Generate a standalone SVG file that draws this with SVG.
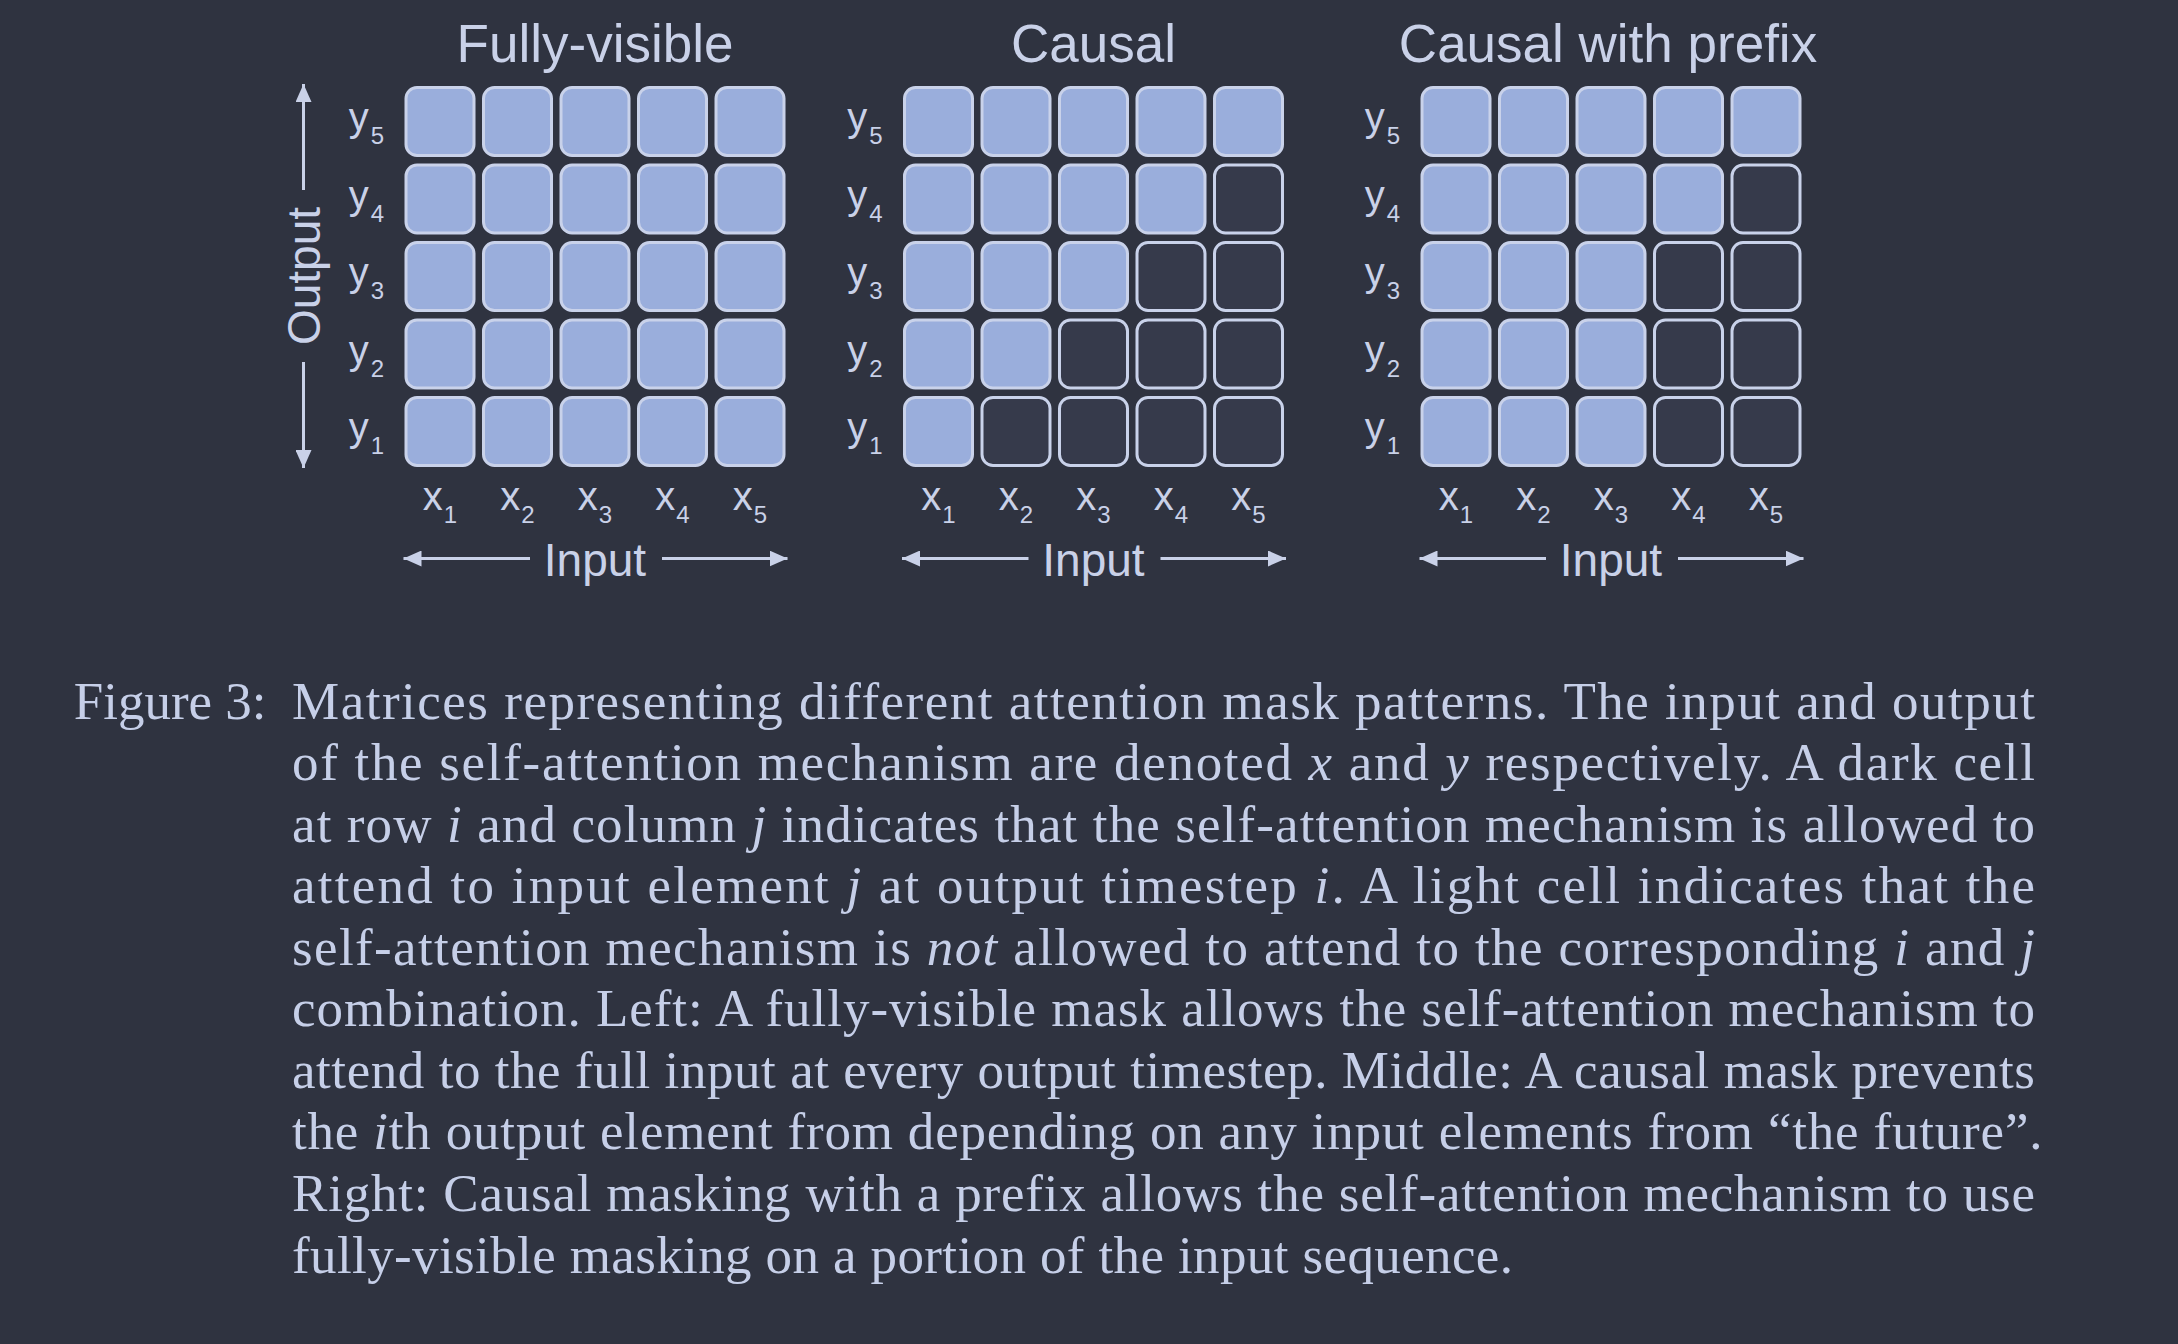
<svg xmlns="http://www.w3.org/2000/svg" width="2178" height="1344" viewBox="0 0 2178 1344">
<style>
.bg{fill:#2f3340}
.on{fill:#9aaedc;stroke:#c9d2ea;stroke-width:3}
.off{fill:#363a4b;stroke:#c9d2ea;stroke-width:3}
.lbl{font-family:"Liberation Sans",Arial,sans-serif;fill:#c9d1e8}
.title{font-size:53px;text-anchor:middle}
.ax{font-size:46px;text-anchor:middle}
.xl{font-size:40px;text-anchor:middle}
.yl{font-size:40px;text-anchor:end}
.sub{font-size:24px}
.arr{stroke:#c9d1e8;stroke-width:3;fill:none;marker-end:url(#ah)}
.cap{font-family:"Liberation Serif","Times New Roman",serif;font-size:53px;fill:#c6cfe8}
.it{font-style:italic}
</style>
<defs>
<marker id="ah" markerUnits="userSpaceOnUse" markerWidth="20" markerHeight="16" refX="18" refY="8" orient="auto">
<path d="M0,0 L18,8 L0,16 z" fill="#c9d1e8"/>
</marker>
</defs>
<rect class="bg" x="0" y="0" width="2178" height="1344"/>

<g id="matrix-fully-visible">
<text class="lbl title" x="595" y="62">Fully-visible</text>
<g id="fv-cells">
<rect class="on" x="406" y="87.5" width="68" height="68" rx="11"/><rect class="on" x="483.5" y="87.5" width="68" height="68" rx="11"/><rect class="on" x="561" y="87.5" width="68" height="68" rx="11"/><rect class="on" x="638.5" y="87.5" width="68" height="68" rx="11"/><rect class="on" x="716" y="87.5" width="68" height="68" rx="11"/>
<rect class="on" x="406" y="165" width="68" height="68" rx="11"/><rect class="on" x="483.5" y="165" width="68" height="68" rx="11"/><rect class="on" x="561" y="165" width="68" height="68" rx="11"/><rect class="on" x="638.5" y="165" width="68" height="68" rx="11"/><rect class="on" x="716" y="165" width="68" height="68" rx="11"/>
<rect class="on" x="406" y="242.5" width="68" height="68" rx="11"/><rect class="on" x="483.5" y="242.5" width="68" height="68" rx="11"/><rect class="on" x="561" y="242.5" width="68" height="68" rx="11"/><rect class="on" x="638.5" y="242.5" width="68" height="68" rx="11"/><rect class="on" x="716" y="242.5" width="68" height="68" rx="11"/>
<rect class="on" x="406" y="320" width="68" height="68" rx="11"/><rect class="on" x="483.5" y="320" width="68" height="68" rx="11"/><rect class="on" x="561" y="320" width="68" height="68" rx="11"/><rect class="on" x="638.5" y="320" width="68" height="68" rx="11"/><rect class="on" x="716" y="320" width="68" height="68" rx="11"/>
<rect class="on" x="406" y="397.5" width="68" height="68" rx="11"/><rect class="on" x="483.5" y="397.5" width="68" height="68" rx="11"/><rect class="on" x="561" y="397.5" width="68" height="68" rx="11"/><rect class="on" x="638.5" y="397.5" width="68" height="68" rx="11"/><rect class="on" x="716" y="397.5" width="68" height="68" rx="11"/>
</g>
<g id="fv-labels">
<text class="lbl yl" x="384" y="131">y<tspan class="sub" dx="2" dy="13">5</tspan></text>
<text class="lbl yl" x="384" y="208.5">y<tspan class="sub" dx="2" dy="13">4</tspan></text>
<text class="lbl yl" x="384" y="286">y<tspan class="sub" dx="2" dy="13">3</tspan></text>
<text class="lbl yl" x="384" y="363.5">y<tspan class="sub" dx="2" dy="13">2</tspan></text>
<text class="lbl yl" x="384" y="441">y<tspan class="sub" dx="2" dy="13">1</tspan></text>
<text class="lbl xl" x="440" y="510">x<tspan class="sub" dx="1" dy="13">1</tspan></text>
<text class="lbl xl" x="517.5" y="510">x<tspan class="sub" dx="1" dy="13">2</tspan></text>
<text class="lbl xl" x="595" y="510">x<tspan class="sub" dx="1" dy="13">3</tspan></text>
<text class="lbl xl" x="672.5" y="510">x<tspan class="sub" dx="1" dy="13">4</tspan></text>
<text class="lbl xl" x="750" y="510">x<tspan class="sub" dx="1" dy="13">5</tspan></text>
<text class="lbl ax" x="595" y="576">Input</text>
<text class="lbl ax" transform="translate(320,276) rotate(-90)" x="0" y="0">Output</text>
</g>
</g>

<g id="matrix-causal">
<text class="lbl title" x="1093.5" y="62">Causal</text>
<g id="c-cells">
<rect class="on" x="904.5" y="87.5" width="68" height="68" rx="11"/><rect class="on" x="982" y="87.5" width="68" height="68" rx="11"/><rect class="on" x="1059.5" y="87.5" width="68" height="68" rx="11"/><rect class="on" x="1137" y="87.5" width="68" height="68" rx="11"/><rect class="on" x="1214.5" y="87.5" width="68" height="68" rx="11"/>
<rect class="on" x="904.5" y="165" width="68" height="68" rx="11"/><rect class="on" x="982" y="165" width="68" height="68" rx="11"/><rect class="on" x="1059.5" y="165" width="68" height="68" rx="11"/><rect class="on" x="1137" y="165" width="68" height="68" rx="11"/><rect class="off" x="1214.5" y="165" width="68" height="68" rx="11"/>
<rect class="on" x="904.5" y="242.5" width="68" height="68" rx="11"/><rect class="on" x="982" y="242.5" width="68" height="68" rx="11"/><rect class="on" x="1059.5" y="242.5" width="68" height="68" rx="11"/><rect class="off" x="1137" y="242.5" width="68" height="68" rx="11"/><rect class="off" x="1214.5" y="242.5" width="68" height="68" rx="11"/>
<rect class="on" x="904.5" y="320" width="68" height="68" rx="11"/><rect class="on" x="982" y="320" width="68" height="68" rx="11"/><rect class="off" x="1059.5" y="320" width="68" height="68" rx="11"/><rect class="off" x="1137" y="320" width="68" height="68" rx="11"/><rect class="off" x="1214.5" y="320" width="68" height="68" rx="11"/>
<rect class="on" x="904.5" y="397.5" width="68" height="68" rx="11"/><rect class="off" x="982" y="397.5" width="68" height="68" rx="11"/><rect class="off" x="1059.5" y="397.5" width="68" height="68" rx="11"/><rect class="off" x="1137" y="397.5" width="68" height="68" rx="11"/><rect class="off" x="1214.5" y="397.5" width="68" height="68" rx="11"/>
</g>
<g id="c-labels">
<text class="lbl yl" x="882.5" y="131">y<tspan class="sub" dx="2" dy="13">5</tspan></text>
<text class="lbl yl" x="882.5" y="208.5">y<tspan class="sub" dx="2" dy="13">4</tspan></text>
<text class="lbl yl" x="882.5" y="286">y<tspan class="sub" dx="2" dy="13">3</tspan></text>
<text class="lbl yl" x="882.5" y="363.5">y<tspan class="sub" dx="2" dy="13">2</tspan></text>
<text class="lbl yl" x="882.5" y="441">y<tspan class="sub" dx="2" dy="13">1</tspan></text>
<text class="lbl xl" x="938.5" y="510">x<tspan class="sub" dx="1" dy="13">1</tspan></text>
<text class="lbl xl" x="1016" y="510">x<tspan class="sub" dx="1" dy="13">2</tspan></text>
<text class="lbl xl" x="1093.5" y="510">x<tspan class="sub" dx="1" dy="13">3</tspan></text>
<text class="lbl xl" x="1171" y="510">x<tspan class="sub" dx="1" dy="13">4</tspan></text>
<text class="lbl xl" x="1248.5" y="510">x<tspan class="sub" dx="1" dy="13">5</tspan></text>
<text class="lbl ax" x="1093.5" y="576">Input</text>
</g>
</g>

<g id="matrix-causal-prefix">
<text class="lbl title" x="1608" y="62">Causal with prefix</text>
<g id="p-cells">
<rect class="on" x="1422" y="87.5" width="68" height="68" rx="11"/><rect class="on" x="1499.5" y="87.5" width="68" height="68" rx="11"/><rect class="on" x="1577" y="87.5" width="68" height="68" rx="11"/><rect class="on" x="1654.5" y="87.5" width="68" height="68" rx="11"/><rect class="on" x="1732" y="87.5" width="68" height="68" rx="11"/>
<rect class="on" x="1422" y="165" width="68" height="68" rx="11"/><rect class="on" x="1499.5" y="165" width="68" height="68" rx="11"/><rect class="on" x="1577" y="165" width="68" height="68" rx="11"/><rect class="on" x="1654.5" y="165" width="68" height="68" rx="11"/><rect class="off" x="1732" y="165" width="68" height="68" rx="11"/>
<rect class="on" x="1422" y="242.5" width="68" height="68" rx="11"/><rect class="on" x="1499.5" y="242.5" width="68" height="68" rx="11"/><rect class="on" x="1577" y="242.5" width="68" height="68" rx="11"/><rect class="off" x="1654.5" y="242.5" width="68" height="68" rx="11"/><rect class="off" x="1732" y="242.5" width="68" height="68" rx="11"/>
<rect class="on" x="1422" y="320" width="68" height="68" rx="11"/><rect class="on" x="1499.5" y="320" width="68" height="68" rx="11"/><rect class="on" x="1577" y="320" width="68" height="68" rx="11"/><rect class="off" x="1654.5" y="320" width="68" height="68" rx="11"/><rect class="off" x="1732" y="320" width="68" height="68" rx="11"/>
<rect class="on" x="1422" y="397.5" width="68" height="68" rx="11"/><rect class="on" x="1499.5" y="397.5" width="68" height="68" rx="11"/><rect class="on" x="1577" y="397.5" width="68" height="68" rx="11"/><rect class="off" x="1654.5" y="397.5" width="68" height="68" rx="11"/><rect class="off" x="1732" y="397.5" width="68" height="68" rx="11"/>
</g>
<g id="p-labels">
<text class="lbl yl" x="1400" y="131">y<tspan class="sub" dx="2" dy="13">5</tspan></text>
<text class="lbl yl" x="1400" y="208.5">y<tspan class="sub" dx="2" dy="13">4</tspan></text>
<text class="lbl yl" x="1400" y="286">y<tspan class="sub" dx="2" dy="13">3</tspan></text>
<text class="lbl yl" x="1400" y="363.5">y<tspan class="sub" dx="2" dy="13">2</tspan></text>
<text class="lbl yl" x="1400" y="441">y<tspan class="sub" dx="2" dy="13">1</tspan></text>
<text class="lbl xl" x="1456" y="510">x<tspan class="sub" dx="1" dy="13">1</tspan></text>
<text class="lbl xl" x="1533.5" y="510">x<tspan class="sub" dx="1" dy="13">2</tspan></text>
<text class="lbl xl" x="1611" y="510">x<tspan class="sub" dx="1" dy="13">3</tspan></text>
<text class="lbl xl" x="1688.5" y="510">x<tspan class="sub" dx="1" dy="13">4</tspan></text>
<text class="lbl xl" x="1766" y="510">x<tspan class="sub" dx="1" dy="13">5</tspan></text>
<text class="lbl ax" x="1611" y="576">Input</text>
</g>
</g>

<g id="connectors">
<line class="arr" x1="303.5" y1="190" x2="303.5" y2="84"/>
<line class="arr" x1="303.5" y1="362" x2="303.5" y2="468"/>
<line class="arr" x1="530" y1="558.5" x2="403.5" y2="558.5"/>
<line class="arr" x1="662" y1="558.5" x2="787.5" y2="558.5"/>
<line class="arr" x1="1028.5" y1="558.5" x2="902" y2="558.5"/>
<line class="arr" x1="1160.5" y1="558.5" x2="1286" y2="558.5"/>
<line class="arr" x1="1546" y1="558.5" x2="1419.5" y2="558.5"/>
<line class="arr" x1="1678" y1="558.5" x2="1803.5" y2="558.5"/>
</g>

<g id="caption" class="cap">
<text x="73.7" y="718.5">Figure 3:</text>
<text x="292" y="718.5" textLength="1743" lengthAdjust="spacing">Matrices representing different attention mask patterns.  The input and output</text>
<text x="292" y="780" textLength="1743" lengthAdjust="spacing">of the self-attention mechanism are denoted <tspan class="it">x</tspan> and <tspan class="it">y</tspan> respectively.  A dark cell</text>
<text x="292" y="841.6" textLength="1743" lengthAdjust="spacing">at row <tspan class="it">i</tspan> and column <tspan class="it">j</tspan> indicates that the self-attention mechanism is allowed to</text>
<text x="292" y="903.1" textLength="1743" lengthAdjust="spacing">attend to input element <tspan class="it">j</tspan> at output timestep <tspan class="it">i</tspan>.  A light cell indicates that the</text>
<text x="292" y="964.7" textLength="1743" lengthAdjust="spacing">self-attention mechanism is <tspan class="it">not</tspan> allowed to attend to the corresponding <tspan class="it">i</tspan> and <tspan class="it">j</tspan></text>
<text x="292" y="1026.2" textLength="1743" lengthAdjust="spacing">combination.  Left:  A fully-visible mask allows the self-attention mechanism to</text>
<text x="292" y="1087.8" textLength="1743" lengthAdjust="spacing">attend to the full input at every output timestep.  Middle:  A causal mask prevents</text>
<text x="292" y="1149.3" textLength="1750.5" lengthAdjust="spacing">the <tspan class="it">i</tspan>th output element from depending on any input elements from “the future”.</text>
<text x="292" y="1210.9" textLength="1743" lengthAdjust="spacing">Right:  Causal masking with a prefix allows the self-attention mechanism to use</text>
<text x="292" y="1272.5" textLength="1221" lengthAdjust="spacing">fully-visible masking on a portion of the input sequence.</text>
</g>
</svg>
